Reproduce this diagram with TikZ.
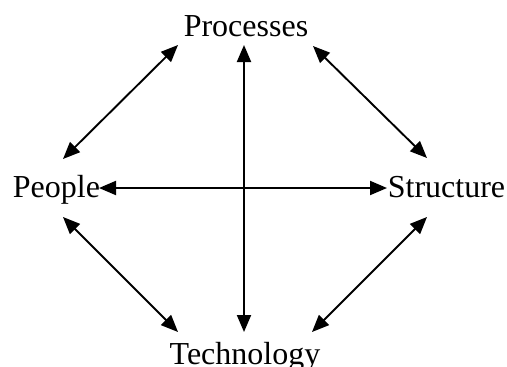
\documentclass[tikz,border=0pt]{standalone}
\usepackage{fontspec}
\setmainfont{Liberation Serif}
\usetikzlibrary{arrows.meta}
\begin{document}
\begin{tikzpicture}[x=1pt,y=-1pt,
  lbl/.style={inner sep=0pt,anchor=base,font=\fontsize{32}{32}\selectfont},
  link/.style={line width=1.9pt,{Triangle[length=17pt,width=14pt]}-{Triangle[length=17pt,width=14pt]}}]
\useasboundingbox (0,0) rectangle (507,367);
\node[lbl] (proc) at (246,36) {Processes};
\node[lbl] (peop) at (56.5,197) {People};
\node[lbl] (stru) at (446.5,197) {Structure};
\node[lbl] (tech) at (245,364) {Technology};
\coordinate (vt) at (244,45);
\coordinate (vb) at (244,332);
\coordinate (hl) at (99,188);
\coordinate (hr) at (387,188);
\coordinate (tl1) at (178,45);
\coordinate (tl2) at (63,159);
\coordinate (tr1) at (313,46);
\coordinate (tr2) at (427,158);
\coordinate (bl1) at (63,217);
\coordinate (bl2) at (178,332);
\coordinate (br1) at (427,217);
\coordinate (br2) at (312,332);
\draw[link] (vt) -- (vb);
\draw[link] (hl) -- (hr);
\draw[link] (tl1) -- (tl2);
\draw[link] (tr1) -- (tr2);
\draw[link] (bl1) -- (bl2);
\draw[link] (br1) -- (br2);
\end{tikzpicture}
\end{document}
